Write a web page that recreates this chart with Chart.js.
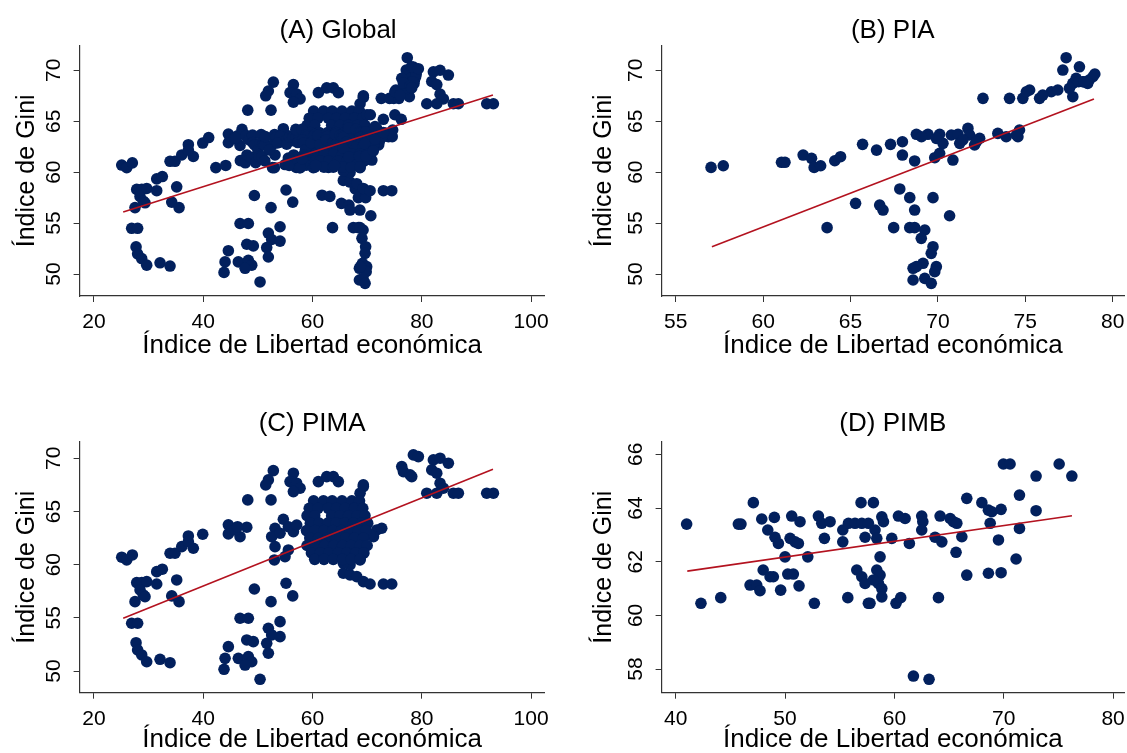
<!DOCTYPE html>
<html>
<head>
<meta charset="utf-8">
<script src="https://cdn.jsdelivr.net/npm/chart.js@4.4.1/dist/chart.umd.min.js"></script>
<style>
  html, body { margin: 0; padding: 0; background: #fff; }
  #page { position: relative; width: 1127px; height: 753px; overflow: hidden; background: #fff; }
  .panel { position: absolute; width: 600px; height: 400px; }
  .panel canvas { display: block; }
</style>
</head>
<body>
<div id="page">
  <div class="panel" style="left:0;top:0"><canvas id="chartA" width="600" height="400"></canvas></div>
  <div class="panel" style="left:563px;top:0"><canvas id="chartB" width="600" height="400"></canvas></div>
  <div class="panel" style="left:0;top:378px"><canvas id="chartC" width="600" height="400"></canvas></div>
  <div class="panel" style="left:563px;top:378px"><canvas id="chartD" width="600" height="400"></canvas></div>
</div>
<script>
// PIA: [libertad economica, gini]
const piaPoints = [
  [57.02,60.47],[57.72,60.63],[61.05,60.97],[61.25,60.97],[62.29,61.68],[62.77,61.36],[62.92,60.47],
  [63.29,60.63],[64.1,61.12],[64.43,61.52],[65.69,62.73],[65.29,56.94],[63.66,54.55],
  [66.49,62.17],[67.29,62.73],[67.97,62.99],[67.97,61.68],[68.67,61.1],[68.77,63.72],[69.43,63.72],
  [69.82,61.42],[70.1,63.72],[70.1,61.85],[70.29,62.83],[70.77,63.65],[70.86,61.19],[71.15,63.72],
  [71.25,62.83],[71.72,64.3],[71.82,63.65],[72.1,62.67],[72.39,63.32],[72.58,67.25],[73.43,63.81],
  [73.91,63.48],[74.1,67.25],[74.58,63.48],[74.67,64.14],[74.86,67.25],[75.25,68.07],[75.82,67.25],
  [76.49,67.9],[76.86,68.07],[77.34,71.24],[77.15,70.03],[77.72,68.72],[77.72,67.41],[78.1,70.35],
  [78.29,68.88],[69.06,63.48],[69.91,63.32],[71.43,63.16],[72.2,62.99],[74.49,63.65],[75.06,67.9],
  [76.0,67.57],[77.53,68.23],[77.91,69.21],[78.57,68.72],[78.66,69.05],[78.87,69.37],[78.98,69.64],
  [78.05,68.88],[78.35,68.88],
  [67.82,58.35],[68.39,57.5],[68.67,56.28],[69.72,57.5],[66.67,56.77],[66.86,56.28],[67.47,54.55],
  [68.39,54.55],[68.67,54.55],[69.25,54.32],[69.05,53.5],[69.72,52.68],[69.62,52.03],[70.67,55.72],
  [68.58,50.56],[69.15,51.05],[69.91,50.72],[69.82,50.23],[68.58,49.41],[69.25,49.57],[69.62,49.08],
  [68.77,50.72]
];

// PIMA
const pimaPoints = [
  [25.09,60.7],[26.0,60.44],[27.03,60.91],[27.83,58.31],[28.75,58.31],[29.66,58.4],[28.44,57.62],
  [29.04,57.15],[29.35,56.99],[27.52,56.52],[31.49,58.18],[31.49,59.34],[32.52,59.57],[35.15,58.56],
  [34.24,57.06],[35.58,56.52],[26.91,54.49],[28.0,54.49],[27.71,52.66],[28.0,51.98],[28.75,51.51],
  [29.66,50.87],[32.1,51.1],[33.93,50.78],[33.93,61.07],[34.84,61.07],[36.07,61.69],[37.28,62.7],
  [38.19,61.54],[37.28,62.16],[39.91,62.86],[44.6,63.74],[44.6,62.89],[44.6,52.29],[44.0,51.19],
  [43.81,50.16],
  [52.83,68.84],[51.92,67.97],[51.44,67.5],[56.5,68.6],[55.89,67.81],[57.11,67.66],[57.72,67.19],
  [56.5,66.87],[48.15,66.09],[52.41,66.09],[61.07,67.81],[62.6,68.28],[47.97,63.52],[46.74,62.63],
  [45.82,63.26],[46.28,63.57],[54.66,64.27],[53.14,63.42],[52.53,62.63],[54.06,62.95],[55.58,63.57],
  [56.5,63.1],[57.11,63.73],[53.14,61.69],[53.02,60.44],[54.97,60.75],[55.58,61.38],[49.36,57.71],
  [52.41,56.52],[55.16,58.25],[56.38,57.06],[46.74,54.96],[48.26,54.96],[47.97,52.92],[49.17,52.76],
  [51.92,54.02],[54.06,54.64],[52.53,53.39],[54.06,53.23],[51.62,52.6],[51.92,51.67],[46.43,51.19],
  [48.26,51.35],[48.88,50.87],[47.66,50.56],[50.4,49.22],
  [78.46,70.32],[79.37,70.16],[76.33,69.22],[76.63,68.75],[77.85,68.44],[78.16,68.28],[82.12,69.85],
  [83.34,70.01],[84.86,69.54],[81.82,68.91],[82.74,68.6],[83.34,67.66],[83.95,67.19],[80.91,66.72],
  [82.74,66.72],[85.78,66.72],[86.69,66.72],[91.88,66.72],[93.1,66.72],[63.81,68.28],[64.73,67.81],
  [69.3,67.34],[68.7,66.72],[65.64,59.19],[66.87,59.03],[68.1,58.87],[69.3,58.4],[70.53,58.18],
  [72.97,58.18],[74.5,58.18],[69.3,61.07],[68.7,60.44],[66.87,59.97],[65.64,60.13],[71.76,63.26],
  [72.67,63.42],[71.15,62.63],[70.53,62.79],[69.3,67.5],
  // dense cluster, about 59-70
  [60.2,66.0],[62.0,66.0],[63.6,66.0],[65.4,66.0],[67.2,66.0],[68.6,66.0],
  [59.4,65.3],[61.0,65.3],[62.9,65.3],[64.4,65.3],[66.0,65.3],[67.7,65.3],[69.2,65.3],
  [59.0,64.6],[60.4,64.6],[63.5,64.6],[65.0,64.6],[66.6,64.6],[68.2,64.6],[69.6,64.6],
  [59.6,63.9],[61.2,63.9],[62.8,63.9],[64.3,63.9],[65.9,63.9],[67.5,63.9],[69.0,63.9],[70.1,63.9],
  [58.9,63.2],[60.5,63.2],[62.1,63.2],[63.7,63.2],[65.3,63.2],[66.9,63.2],[68.4,63.2],[69.8,63.2],
  [59.5,62.5],[61.1,62.5],[62.7,62.5],[64.4,62.5],[66.1,62.5],[67.7,62.5],[69.3,62.5],
  [59.0,61.8],[60.6,61.8],[62.2,61.8],[63.9,61.8],[65.5,61.8],[67.1,61.8],[68.7,61.8],[70.0,61.8],
  [59.8,61.1],[61.4,61.1],[63.0,61.1],[64.7,61.1],[66.3,61.1],[67.9,61.1],[69.4,61.1],
  [60.4,60.5],[62.1,60.5],[63.8,60.5],[65.5,60.5],[67.1,60.5],[68.7,60.5]
];

// PIMB
const pimbPoints = [
  [41.0,63.4],[42.31,60.45],[44.12,60.66],[45.73,63.4],[45.97,63.4],[47.1,64.2],[46.8,61.13],
  [47.41,61.13],[47.71,60.92],[47.87,63.59],[48.0,61.69],[48.63,61.44],[48.93,61.44],[48.42,63.18],
  [49.02,63.65],[49.08,62.91],[49.39,62.68],[49.6,60.94],[50.0,62.18],[50.25,61.54],[50.76,61.54],
  [50.61,63.7],[50.46,62.87],[50.92,62.74],[51.22,62.68],[51.37,63.49],[51.28,61.1],[52.08,62.18],
  [52.68,60.45],[53.05,63.7],[53.36,63.43],[54.12,63.49],[53.6,62.87],[55.28,63.18],[55.28,62.74],
  [55.74,60.66],[55.8,63.43],[56.4,63.43],[57.02,63.43],[57.62,63.43],[56.56,61.69],[56.95,64.2],
  [57.02,61.44],[57.32,61.19],[57.32,62.91],[57.62,60.45],
  [58.08,64.2],[58.85,63.67],[59.0,63.49],[58.23,63.18],[58.39,62.87],[58.69,62.18],[58.39,61.69],
  [58.69,61.5],[58.54,61.19],[58.85,61.0],[58.85,60.69],[57.77,60.45],[58.08,61.32],[59.76,62.87],
  [60.15,60.45],[60.58,60.66],[60.37,63.7],[60.98,63.61],[61.37,62.68],[62.5,63.7],[62.6,63.49],
  [62.5,63.18],[63.72,62.91],[64.34,62.74],[64.03,60.66],[64.18,63.7],[65.1,63.61],[65.4,63.49],
  [65.71,63.43],[66.17,62.93],[65.64,62.35],[66.62,64.36],[66.62,61.5],[68.0,64.2],[68.6,63.92],
  [68.91,63.86],[69.76,63.95],[68.76,63.43],[69.52,62.81],[68.6,61.57],[69.76,61.59],[71.13,62.1],
  [71.44,64.48],[71.44,63.24],[69.97,65.64],[70.58,65.64],[72.96,65.19],[72.96,63.9],[75.07,65.64],
  [76.23,65.19],[61.74,57.74],[63.17,57.62]
];

// Global sample = the three groups together
const globalPoints = piaPoints.concat(pimaPoints, pimbPoints);

// fitted lines, end points
const fitGlobal = [[25.36, 56.09], [93.02, 67.57]];
const fitPia = [[57.07, 52.68], [78.93, 67.18]];
const fitPima = [[25.36, 54.96], [93.02, 68.97]];
const fitPimb = [[41.06, 61.65], [76.24, 63.71]];

const ticksXWide = [20, 40, 60, 80, 100];
const ticksXPia = [55, 60, 65, 70, 75, 80];
const ticksXPimb = [40, 50, 60, 70, 80];
const ticksYGini = [50, 55, 60, 65, 70];
const ticksYPimb = [58, 60, 62, 64, 66];

const FONT = '"Liberation Sans", Arial, Helvetica, sans-serif';
const NAVY = '#02205d';
const RED = '#b3121f';
const AXIS = '#333';

Chart.defaults.font.family = FONT;
Chart.defaults.color = '#000';

const panelTitle = {
  id: 'panelTitle',
  afterDraw(chart, args, opts) {
    const { ctx, chartArea } = chart;
    ctx.save();
    ctx.font = '26px ' + FONT;
    ctx.fillStyle = '#000';
    ctx.textAlign = 'center';
    ctx.textBaseline = 'alphabetic';
    ctx.fillText(opts.text, (chartArea.left + chartArea.right) / 2 + opts.shift, opts.baseline);
    ctx.restore();
  }
};

function toXY(pairs) {
  return pairs.map(([x, y]) => ({ x, y }));
}

function makePanel(id, p) {
  const ctx = document.getElementById(id).getContext('2d');
  return new Chart(ctx, {
    type: 'scatter',
    data: {
      datasets: [
        {
          type: 'line',
          data: toXY(p.fit),
          borderColor: RED,
          borderWidth: 1.6,
          pointRadius: 0,
          fill: false,
          order: 0
        },
        {
          data: toXY(p.points),
          backgroundColor: NAVY,
          borderWidth: 0,
          pointRadius: 5.8,
          order: 1
        }
      ]
    },
    options: {
      responsive: false,
      animation: false,
      devicePixelRatio: 1,
      events: [],
      layout: { padding: p.padding },
      plugins: {
        legend: { display: false },
        tooltip: { enabled: false },
        panelTitle: { text: p.title, shift: p.titleShift, baseline: p.titleBaseline }
      },
      scales: {
        x: {
          type: 'linear',
          min: p.xMin,
          max: p.xMax,
          afterBuildTicks: (s) => { s.ticks = p.xTicks.map(v => ({ value: v })); },
          afterFit: (s) => { s.height = 70; },
          grid: { drawOnChartArea: false, drawTicks: true, tickLength: 6, color: AXIS, lineWidth: 1 },
          border: { display: true, color: AXIS, width: 1.2 },
          ticks: { font: { size: 21 }, color: '#000', padding: 8, maxRotation: 0 },
          title: {
            display: true,
            text: 'Índice de Libertad económica',
            font: { size: 26 },
            color: '#000',
            padding: { top: 0, bottom: p.xTitlePad }
          }
        },
        y: {
          type: 'linear',
          min: p.yMin,
          max: p.yMax,
          afterBuildTicks: (s) => { s.ticks = p.yTicks.map(v => ({ value: v })); },
          afterFit: (s) => { s.width = p.yWidth; },
          grid: { drawOnChartArea: false, drawTicks: true, tickLength: 6, color: AXIS, lineWidth: 1 },
          border: { display: true, color: AXIS, width: 1.2 },
          ticks: { font: { size: 21 }, color: '#000', padding: 8, minRotation: 90, maxRotation: 90, crossAlign: 'center' },
          title: {
            display: true,
            text: 'Índice de Gini',
            font: { size: 25 },
            color: '#000',
            padding: { top: p.yTitlePad, bottom: 0 }
          }
        }
      }
    },
    plugins: [panelTitle]
  });
}

document.addEventListener('DOMContentLoaded', () => {
  makePanel('chartA', {
    points: globalPoints, fit: fitGlobal, title: '(A) Global', titleShift: 26, titleBaseline: 38,
    xMin: 17.38, xMax: 102.47, yMin: 47.84, yMax: 72.42, xTicks: ticksXWide, yTicks: ticksYGini,
    yWidth: 79.6, yTitlePad: 11.8, xTitlePad: 4.4,
    padding: { left: 0, top: 45.7, right: 55.4, bottom: 34 }
  });
  makePanel('chartB', {
    points: piaPoints, fit: fitPia, title: '(B) PIA', titleShift: 0, titleBaseline: 38,
    xMin: 54.19, xMax: 80.65, yMin: 47.84, yMax: 72.42, xTicks: ticksXPia, yTicks: ticksYGini,
    yWidth: 98.6, yTitlePad: 26.3, xTitlePad: 4.4,
    padding: { left: 0, top: 45.7, right: 39, bottom: 34 }
  });
  makePanel('chartC', {
    points: pimaPoints, fit: fitPima, title: '(C) PIMA', titleShift: 0, titleBaseline: 53,
    xMin: 17.38, xMax: 102.47, yMin: 47.96, yMax: 71.56, xTicks: ticksXWide, yTicks: ticksYGini,
    yWidth: 79.6, yTitlePad: 11.8, xTitlePad: 7.7,
    padding: { left: 0, top: 63.7, right: 55.4, bottom: 15.3 }
  });
  makePanel('chartD', {
    points: pimbPoints, fit: fitPimb, title: '(D) PIMB', titleShift: 0, titleBaseline: 53,
    xMin: 38.71, xMax: 81.0, yMin: 57.12, yMax: 66.47, xTicks: ticksXPimb, yTicks: ticksYPimb,
    yWidth: 98.6, yTitlePad: 26.3, xTitlePad: 7.7,
    padding: { left: 0, top: 63.7, right: 39, bottom: 15.3 }
  });
});
</script>
</body>
</html>
